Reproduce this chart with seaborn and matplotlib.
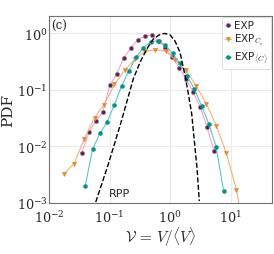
import numpy as np
import pandas as pd
import matplotlib
matplotlib.use('Agg')
import matplotlib.pyplot as plt
import seaborn as sns

# EXP
exp_x = [0.0347, 0.0452, 0.0590, 0.0769, 0.1005, 0.131, 0.171, 0.223, 0.291, 0.379,
         0.495, 0.646, 0.830, 1.084, 1.413, 1.845, 2.404, 3.14, 4.05, 5.28]
exp_y = [0.0077, 0.0176, 0.0278, 0.0406, 0.119, 0.191, 0.364, 0.546, 0.762, 0.885,
         0.912, 0.724, 0.546, 0.379, 0.243, 0.153, 0.090, 0.049, 0.022, 0.0083]

# EXP_Cs
cs_x = [0.0175, 0.0259, 0.0381, 0.0564, 0.0808, 0.120, 0.178, 0.262, 0.384, 0.568,
        0.843, 1.22, 1.80, 2.67, 3.93, 5.77, 8.43, 12.4, 18.5]
cs_y = [0.0033, 0.00493, 0.0135, 0.0323, 0.0546, 0.124, 0.222, 0.350, 0.478, 0.509,
        0.478, 0.336, 0.222, 0.118, 0.0568, 0.0233, 0.00754, 0.00171, 0.00015]

# EXP_<C>
c_x = [0.0395, 0.0522, 0.0689, 0.0906, 0.120, 0.158, 0.208, 0.275, 0.361, 0.477,
       0.629, 0.830, 1.096, 1.44, 1.90, 2.51, 3.31, 4.36, 5.74, 7.59]
c_y = [0.00199, 0.00886, 0.0169, 0.0267, 0.0546, 0.117, 0.218, 0.375, 0.552, 0.703,
       0.738, 0.616, 0.437, 0.292, 0.174, 0.103, 0.0510, 0.0246, 0.00972, 0.00164]

# RPP reference curve
rpp_x = [0.0590, 0.0942, 0.152, 0.246, 0.318, 0.410, 0.526, 0.661, 0.800, 0.993,
         1.20, 1.45, 1.76, 1.99, 2.26, 2.57, 2.77, 3.02]
rpp_y = [0.00104, 0.0047, 0.0253, 0.156, 0.306, 0.524, 0.785, 0.933, 0.988, 0.933,
         0.724, 0.458, 0.176, 0.0851, 0.0379, 0.00923, 0.0041, 0.00108]

sns.set_style('whitegrid', {'axes.edgecolor': '0.45', 'grid.color': '0.92'})
plt.rcParams['mathtext.fontset'] = 'cm'

fig = plt.figure(figsize=(2.74, 2.55), dpi=100)
ax = fig.add_axes([0.179, 0.2, 0.814, 0.733])

sns.lineplot(x=rpp_x, y=rpp_y, ax=ax, sort=False, estimator=None,
             color='black', linestyle='--', linewidth=1.0, zorder=5)
sns.lineplot(x=exp_x, y=exp_y, ax=ax, sort=False, estimator=None,
             color='#f5a3d6', linewidth=0.8, marker='o', markersize=3.0,
             markerfacecolor='#4b2a48', markeredgecolor='#a87aa0', markeredgewidth=0.5,
             label='EXP', zorder=3)
sns.lineplot(x=cs_x, y=cs_y, ax=ax, sort=False, estimator=None,
             color='#f2b27a', linewidth=0.8, marker='v', markersize=3.2,
             markerfacecolor='#e08a3c', markeredgecolor='#e08a3c', markeredgewidth=0.3,
             label=r'EXP$_{C_\mathrm{s}}$', zorder=3)
sns.lineplot(x=c_x, y=c_y, ax=ax, sort=False, estimator=None,
             color='#5fc6c4', linewidth=0.8, marker='h', markersize=3.2,
             markerfacecolor='#0b8f8c', markeredgecolor='#0b8f8c', markeredgewidth=0.3,
             label=r'EXP$_{\langle C\rangle}$', zorder=4)

ax.set_xscale('log')
ax.set_yscale('log')
ax.set_xlim(1e-2, 48)
ax.set_ylim(1e-3, 2)
ax.set_xticks([1e-2, 1e-1, 1e0, 1e1])
ax.set_yticks([1e-3, 1e-2, 1e-1, 1e0])
ax.minorticks_off()
ax.tick_params(axis='x', which='major', labelsize=9.2, pad=4.5, length=0)
ax.tick_params(axis='y', which='major', labelsize=9.2, pad=1, length=0)
for lab in ax.get_xticklabels() + ax.get_yticklabels():
    lab.set_fontfamily('serif')

ax.set_xlabel(r'$\mathcal{V}\,=\,V/\langle V\rangle$', fontsize=11, labelpad=0)
ax.set_ylabel('PDF', fontsize=11, family='serif', labelpad=1)

ax.text(0.01, 0.985, '(c)', transform=ax.transAxes, ha='left', va='top',
        fontsize=8.5, family='serif')
ax.text(0.097, 0.00125, 'RPP', fontsize=8, ha='left', va='bottom')

leg = ax.legend(loc='upper right', fontsize=7.5, handlelength=0.5, handletextpad=0.35,
                borderpad=0.3, labelspacing=0.2, borderaxespad=0.1,
                frameon=True, framealpha=1)
leg.get_frame().set_edgecolor('0.85')
leg.get_frame().set_linewidth(0.6)

fig.savefig('out.png', dpi=100)
